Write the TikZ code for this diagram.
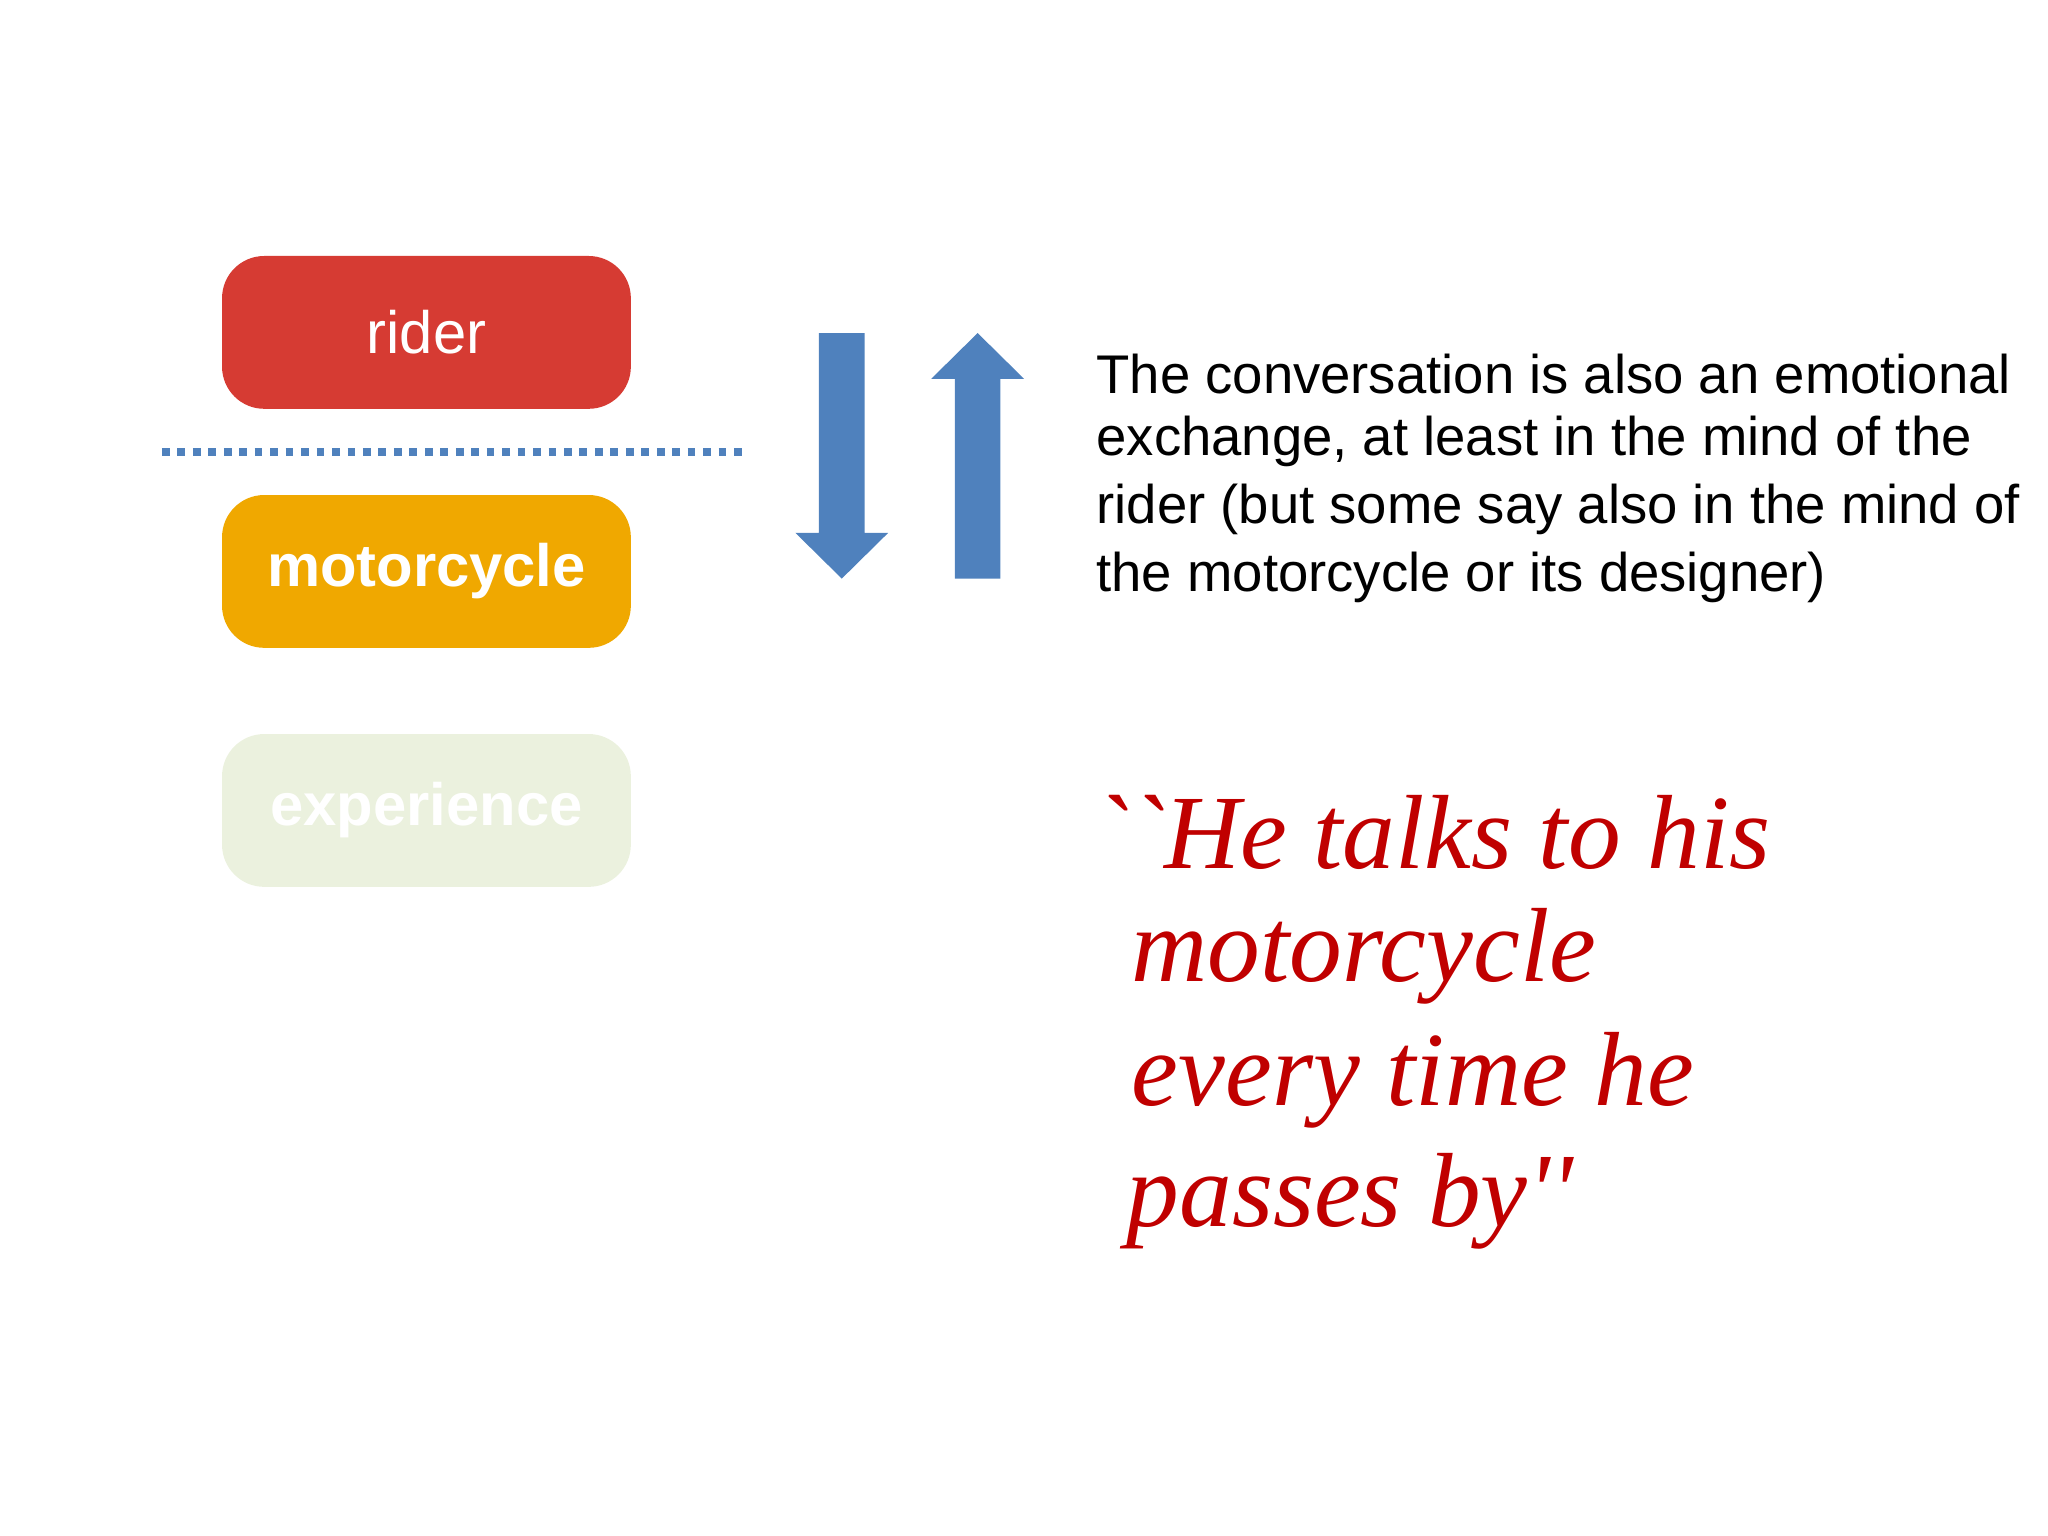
\documentclass[tikz,border=0pt]{standalone}
\usepackage{fontspec}
\setmainfont{Liberation Sans}
\newfontfamily\quotefont{Liberation Serif}
\definecolor{rred}{HTML}{D63B33}
\definecolor{morange}{HTML}{F0A800}
\definecolor{epale}{HTML}{EBF1DE}
\definecolor{ablue}{HTML}{4F81BD}
\definecolor{qred}{HTML}{C00000}
\begin{document}
\begin{tikzpicture}[x=0.013061cm,y=-0.013061cm,
  boxst/.style={rounded corners=12pt,minimum width=313*0.013061cm,minimum height=117*0.013061cm,inner sep=0pt,text=white,font=\fontsize{17}{20}\selectfont},
  bodyt/.style={anchor=west,inner sep=0pt,font=\fontsize{15.5}{19}\selectfont},
  quotet/.style={anchor=west,inner sep=0pt,text=qred,font=\quotefont\itshape\fontsize{30}{36}\selectfont}]
\useasboundingbox (0,0) rectangle (1568,1176);
\node[boxst,fill=rred] (rider) at (326.5,254.5) {rider};
\node[boxst,fill=morange,font=\bfseries\fontsize{17}{20}\selectfont] (moto) at (326.5,437.5) {motorcycle};
\node[boxst,fill=epale,font=\bfseries\fontsize{17}{20}\selectfont] (exp) at (326.5,620.5) {experience};
\coordinate (d1) at (124,346); \coordinate (d2) at (572,346);
\draw[ablue,line width=2.2pt,dash pattern=on 2.2pt off 2.2pt] (d1) -- (d2);
\fill[ablue] (627,255) -- (662,255) -- (662,408) -- (680,408) -- (644.5,443) -- (609,408) -- (627,408) -- cycle;
\fill[ablue] (731,443) -- (766,443) -- (766,290) -- (784,290) -- (748.5,255) -- (713,290) -- (731,290) -- cycle;
\node[bodyt] (t1) at (839,286) {The conversation is also an emotional};
\node[bodyt] (t2) at (839,338) {exchange, at least in the mind of the};
\node[bodyt] (t3) at (839,390) {rider (but some say also in the mind of};
\node[bodyt] (t4) at (839,442) {the motorcycle or its designer)};
\node[quotet] (q1) at (837,637) {``He talks to his};
\node[quotet] (q2) at (866,732) {motorcycle};
\node[quotet] (q3) at (866,827) {every time he};
\node[quotet] (q4) at (862,920) {passes by''};
\end{tikzpicture}
\end{document}
